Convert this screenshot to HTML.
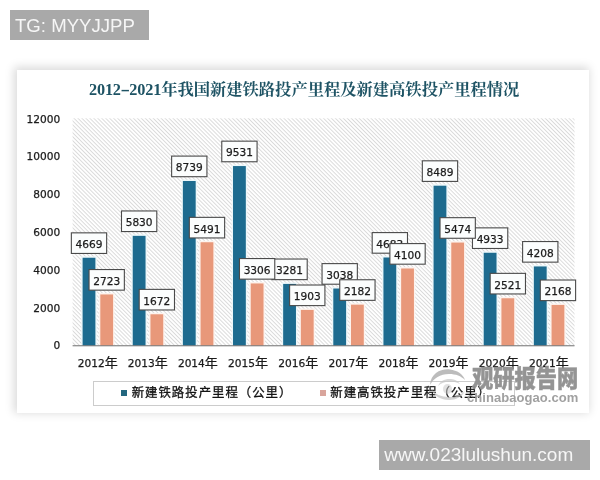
<!DOCTYPE html>
<html lang="zh"><head><meta charset="utf-8"><title>chart</title>
<style>
html,body{margin:0;padding:0;background:#fff;}
body{width:600px;height:480px;position:relative;overflow:hidden;font-family:"Liberation Sans","Noto Sans CJK SC",sans-serif;color:#1c1c1c;}
.abs{position:absolute;}
.tag{position:absolute;background:#a9a9a9;color:#f6f6f6;font-size:18.6px;line-height:30px;height:30px;white-space:nowrap;}
.panel{position:absolute;left:17px;top:70px;width:572px;height:343px;background:#fff;box-shadow:-1.5px -1.5px 9px 1.5px rgba(0,0,0,.15);}
.title{position:absolute;left:89px;top:77px;font-family:"Liberation Serif","Noto Serif CJK SC",serif;font-weight:bold;font-size:16.3px;line-height:26px;color:#1e5364;white-space:nowrap;}
.title .n{font-size:16.3px;font-weight:bold;letter-spacing:-0.2px;}
.title .d{display:inline-block;width:8.6px;text-align:center;font-weight:bold;transform:scaleX(1.75);}
.yl{position:absolute;left:20px;width:40.3px;text-align:right;font-family:"DejaVu Sans",sans-serif;font-size:10.6px;line-height:14px;height:14px;-webkit-text-stroke:.25px #1c1c1c;}
.xl{position:absolute;width:60px;text-align:center;font-family:"DejaVu Sans","Noto Sans CJK SC",sans-serif;font-size:10.6px;line-height:14px;height:14px;top:356.1px;white-space:nowrap;-webkit-text-stroke:.25px #1c1c1c;}
.xl b{font-weight:normal;font-size:13px;font-family:"Liberation Sans","Noto Sans CJK SC",sans-serif;}
.dl{position:absolute;width:36px;height:21px;text-align:center;font-size:12.3px;line-height:21px;}
.legend{position:absolute;left:92.5px;top:380.7px;width:422.5px;height:25px;box-sizing:border-box;border:1px solid #ccc;background:#fff;}
.lt{position:absolute;font-size:12.4px;letter-spacing:1.0px;line-height:16px;top:384.8px;white-space:nowrap;color:#141414;-webkit-text-stroke:.3px #141414;}
.wm{position:absolute;color:#8f8f8f;opacity:.85;white-space:nowrap;}
</style></head><body>
<div class="tag" style="left:10px;top:10px;width:139px;"><span style="position:absolute;left:5px;top:0.5px;">TG: MYYJJPP</span></div>
<div class="panel"></div>
<div class="title"><span class="n">2012</span><span class="d">-</span><span class="n">2021</span>年我国新建铁路投产里程及新建高铁投产里程情况</div>
<svg class="abs" style="left:0;top:0;" width="600" height="480" viewBox="0 0 600 480">
<defs><pattern id="h" width="2.8" height="2.8" patternUnits="userSpaceOnUse" patternTransform="rotate(45)"><rect width="2.8" height="2.8" fill="#fff"/><rect width="2.8" height="0.95" fill="#dadada"/></pattern></defs>
<rect x="72.6" y="118.3" width="501.9" height="227.5" fill="url(#h)"/>
<rect x="81.20" y="256.35" width="15.6" height="89.45" fill="#ecf7fa"/><rect x="82.60" y="257.75" width="12.8" height="88.05" fill="#1d6b8f"/>
<rect x="98.90" y="293.05" width="15.6" height="52.75" fill="#fdf3ee"/><rect x="100.30" y="294.45" width="12.8" height="51.35" fill="#e8987a"/>
<rect x="131.34" y="234.46" width="15.6" height="111.34" fill="#ecf7fa"/><rect x="132.74" y="235.86" width="12.8" height="109.94" fill="#1d6b8f"/>
<rect x="149.04" y="312.87" width="15.6" height="32.93" fill="#fdf3ee"/><rect x="150.44" y="314.27" width="12.8" height="31.53" fill="#e8987a"/>
<rect x="181.48" y="179.60" width="15.6" height="166.20" fill="#ecf7fa"/><rect x="182.88" y="181.00" width="12.8" height="164.80" fill="#1d6b8f"/>
<rect x="199.18" y="240.85" width="15.6" height="104.95" fill="#fdf3ee"/><rect x="200.58" y="242.25" width="12.8" height="103.55" fill="#e8987a"/>
<rect x="231.62" y="164.66" width="15.6" height="181.14" fill="#ecf7fa"/><rect x="233.02" y="166.06" width="12.8" height="179.74" fill="#1d6b8f"/>
<rect x="249.32" y="282.05" width="15.6" height="63.75" fill="#fdf3ee"/><rect x="250.72" y="283.45" width="12.8" height="62.35" fill="#e8987a"/>
<rect x="281.76" y="282.53" width="15.6" height="63.27" fill="#ecf7fa"/><rect x="283.16" y="283.93" width="12.8" height="61.87" fill="#1d6b8f"/>
<rect x="299.46" y="308.51" width="15.6" height="37.29" fill="#fdf3ee"/><rect x="300.86" y="309.91" width="12.8" height="35.89" fill="#e8987a"/>
<rect x="331.90" y="287.11" width="15.6" height="58.69" fill="#ecf7fa"/><rect x="333.30" y="288.51" width="12.8" height="57.29" fill="#1d6b8f"/>
<rect x="349.60" y="303.25" width="15.6" height="42.55" fill="#fdf3ee"/><rect x="351.00" y="304.65" width="12.8" height="41.15" fill="#e8987a"/>
<rect x="382.04" y="256.09" width="15.6" height="89.71" fill="#ecf7fa"/><rect x="383.44" y="257.49" width="12.8" height="88.31" fill="#1d6b8f"/>
<rect x="399.74" y="267.08" width="15.6" height="78.72" fill="#fdf3ee"/><rect x="401.14" y="268.48" width="12.8" height="77.32" fill="#e8987a"/>
<rect x="432.18" y="184.31" width="15.6" height="161.49" fill="#ecf7fa"/><rect x="433.58" y="185.71" width="12.8" height="160.09" fill="#1d6b8f"/>
<rect x="449.88" y="241.17" width="15.6" height="104.63" fill="#fdf3ee"/><rect x="451.28" y="242.57" width="12.8" height="103.23" fill="#e8987a"/>
<rect x="482.32" y="251.37" width="15.6" height="94.43" fill="#ecf7fa"/><rect x="483.72" y="252.77" width="12.8" height="93.03" fill="#1d6b8f"/>
<rect x="500.02" y="296.86" width="15.6" height="48.94" fill="#fdf3ee"/><rect x="501.42" y="298.26" width="12.8" height="47.54" fill="#e8987a"/>
<rect x="532.46" y="265.04" width="15.6" height="80.76" fill="#ecf7fa"/><rect x="533.86" y="266.44" width="12.8" height="79.36" fill="#1d6b8f"/>
<rect x="550.16" y="303.52" width="15.6" height="42.28" fill="#fdf3ee"/><rect x="551.56" y="304.92" width="12.8" height="40.88" fill="#e8987a"/>
<rect x="72.6" y="345.20" width="501.9" height="1.1" fill="#7d7d7d"/>
<rect x="71.35" y="232.85" width="35.3" height="20.6" fill="#fbfdfd" stroke="#4a4a4a" stroke-width="1.1"/><text x="89.00" y="248.00" text-anchor="middle" font-size="10.6" fill="#1c1c1c" stroke="#1c1c1c" stroke-width=".25" font-family="DejaVu Sans, sans-serif">4669</text>
<rect x="121.49" y="210.96" width="35.3" height="20.6" fill="#fbfdfd" stroke="#4a4a4a" stroke-width="1.1"/><text x="139.14" y="226.11" text-anchor="middle" font-size="10.6" fill="#1c1c1c" stroke="#1c1c1c" stroke-width=".25" font-family="DejaVu Sans, sans-serif">5830</text>
<rect x="171.63" y="156.10" width="35.3" height="20.6" fill="#fbfdfd" stroke="#4a4a4a" stroke-width="1.1"/><text x="189.28" y="171.25" text-anchor="middle" font-size="10.6" fill="#1c1c1c" stroke="#1c1c1c" stroke-width=".25" font-family="DejaVu Sans, sans-serif">8739</text>
<rect x="221.77" y="141.16" width="35.3" height="20.6" fill="#fbfdfd" stroke="#4a4a4a" stroke-width="1.1"/><text x="239.42" y="156.31" text-anchor="middle" font-size="10.6" fill="#1c1c1c" stroke="#1c1c1c" stroke-width=".25" font-family="DejaVu Sans, sans-serif">9531</text>
<rect x="271.91" y="259.03" width="35.3" height="20.6" fill="#fbfdfd" stroke="#4a4a4a" stroke-width="1.1"/><text x="289.56" y="274.18" text-anchor="middle" font-size="10.6" fill="#1c1c1c" stroke="#1c1c1c" stroke-width=".25" font-family="DejaVu Sans, sans-serif">3281</text>
<rect x="322.05" y="263.61" width="35.3" height="20.6" fill="#fbfdfd" stroke="#4a4a4a" stroke-width="1.1"/><text x="339.70" y="278.76" text-anchor="middle" font-size="10.6" fill="#1c1c1c" stroke="#1c1c1c" stroke-width=".25" font-family="DejaVu Sans, sans-serif">3038</text>
<rect x="372.19" y="232.59" width="35.3" height="20.6" fill="#fbfdfd" stroke="#4a4a4a" stroke-width="1.1"/><text x="389.84" y="247.74" text-anchor="middle" font-size="10.6" fill="#1c1c1c" stroke="#1c1c1c" stroke-width=".25" font-family="DejaVu Sans, sans-serif">4683</text>
<rect x="422.33" y="160.81" width="35.3" height="20.6" fill="#fbfdfd" stroke="#4a4a4a" stroke-width="1.1"/><text x="439.98" y="175.96" text-anchor="middle" font-size="10.6" fill="#1c1c1c" stroke="#1c1c1c" stroke-width=".25" font-family="DejaVu Sans, sans-serif">8489</text>
<rect x="472.47" y="227.87" width="35.3" height="20.6" fill="#fbfdfd" stroke="#4a4a4a" stroke-width="1.1"/><text x="490.12" y="243.02" text-anchor="middle" font-size="10.6" fill="#1c1c1c" stroke="#1c1c1c" stroke-width=".25" font-family="DejaVu Sans, sans-serif">4933</text>
<rect x="522.61" y="241.54" width="35.3" height="20.6" fill="#fbfdfd" stroke="#4a4a4a" stroke-width="1.1"/><text x="540.26" y="256.69" text-anchor="middle" font-size="10.6" fill="#1c1c1c" stroke="#1c1c1c" stroke-width=".25" font-family="DejaVu Sans, sans-serif">4208</text>
<rect x="89.05" y="269.55" width="35.3" height="20.6" fill="#fbfdfd" stroke="#4a4a4a" stroke-width="1.1"/><text x="106.70" y="284.70" text-anchor="middle" font-size="10.6" fill="#1c1c1c" stroke="#1c1c1c" stroke-width=".25" font-family="DejaVu Sans, sans-serif">2723</text>
<rect x="139.19" y="289.37" width="35.3" height="20.6" fill="#fbfdfd" stroke="#4a4a4a" stroke-width="1.1"/><text x="156.84" y="304.52" text-anchor="middle" font-size="10.6" fill="#1c1c1c" stroke="#1c1c1c" stroke-width=".25" font-family="DejaVu Sans, sans-serif">1672</text>
<rect x="189.33" y="217.35" width="35.3" height="20.6" fill="#fbfdfd" stroke="#4a4a4a" stroke-width="1.1"/><text x="206.98" y="232.50" text-anchor="middle" font-size="10.6" fill="#1c1c1c" stroke="#1c1c1c" stroke-width=".25" font-family="DejaVu Sans, sans-serif">5491</text>
<rect x="239.47" y="258.55" width="35.3" height="20.6" fill="#fbfdfd" stroke="#4a4a4a" stroke-width="1.1"/><text x="257.12" y="273.70" text-anchor="middle" font-size="10.6" fill="#1c1c1c" stroke="#1c1c1c" stroke-width=".25" font-family="DejaVu Sans, sans-serif">3306</text>
<rect x="289.61" y="285.01" width="35.3" height="20.6" fill="#fbfdfd" stroke="#4a4a4a" stroke-width="1.1"/><text x="307.26" y="300.16" text-anchor="middle" font-size="10.6" fill="#1c1c1c" stroke="#1c1c1c" stroke-width=".25" font-family="DejaVu Sans, sans-serif">1903</text>
<rect x="339.75" y="279.75" width="35.3" height="20.6" fill="#fbfdfd" stroke="#4a4a4a" stroke-width="1.1"/><text x="357.40" y="294.90" text-anchor="middle" font-size="10.6" fill="#1c1c1c" stroke="#1c1c1c" stroke-width=".25" font-family="DejaVu Sans, sans-serif">2182</text>
<rect x="389.89" y="243.58" width="35.3" height="20.6" fill="#fbfdfd" stroke="#4a4a4a" stroke-width="1.1"/><text x="407.54" y="258.73" text-anchor="middle" font-size="10.6" fill="#1c1c1c" stroke="#1c1c1c" stroke-width=".25" font-family="DejaVu Sans, sans-serif">4100</text>
<rect x="440.03" y="217.67" width="35.3" height="20.6" fill="#fbfdfd" stroke="#4a4a4a" stroke-width="1.1"/><text x="457.68" y="232.82" text-anchor="middle" font-size="10.6" fill="#1c1c1c" stroke="#1c1c1c" stroke-width=".25" font-family="DejaVu Sans, sans-serif">5474</text>
<rect x="490.17" y="273.36" width="35.3" height="20.6" fill="#fbfdfd" stroke="#4a4a4a" stroke-width="1.1"/><text x="507.82" y="288.51" text-anchor="middle" font-size="10.6" fill="#1c1c1c" stroke="#1c1c1c" stroke-width=".25" font-family="DejaVu Sans, sans-serif">2521</text>
<rect x="540.31" y="280.02" width="35.3" height="20.6" fill="#fbfdfd" stroke="#4a4a4a" stroke-width="1.1"/><text x="557.96" y="295.17" text-anchor="middle" font-size="10.6" fill="#1c1c1c" stroke="#1c1c1c" stroke-width=".25" font-family="DejaVu Sans, sans-serif">2168</text>
</svg>
<div class="yl" style="top:338.3px;">0</div>
<div class="yl" style="top:300.5px;">2000</div>
<div class="yl" style="top:262.7px;">4000</div>
<div class="yl" style="top:224.9px;">6000</div>
<div class="yl" style="top:187.1px;">8000</div>
<div class="yl" style="top:149.3px;">10000</div>
<div class="yl" style="top:111.5px;">12000</div>
<div class="xl" style="left:67.7px;">2012<b>年</b></div>
<div class="xl" style="left:117.8px;">2013<b>年</b></div>
<div class="xl" style="left:167.9px;">2014<b>年</b></div>
<div class="xl" style="left:218.1px;">2015<b>年</b></div>
<div class="xl" style="left:268.2px;">2016<b>年</b></div>
<div class="xl" style="left:318.4px;">2017<b>年</b></div>
<div class="xl" style="left:368.5px;">2018<b>年</b></div>
<div class="xl" style="left:418.6px;">2019<b>年</b></div>
<div class="xl" style="left:468.8px;">2020<b>年</b></div>
<div class="xl" style="left:518.9px;">2021<b>年</b></div>
<div class="legend"></div>
<div class="abs" style="left:121px;top:390px;width:6px;height:6px;background:#23677f;"></div>
<div class="lt" style="left:131.7px;">新建铁路投产里程（公里）</div>
<div class="abs" style="left:320px;top:390px;width:6.3px;height:6.3px;background:#d9a59c;"></div>
<div class="lt" style="left:330.3px;">新建高铁投产里程（公里）</div>
<svg class="abs" style="left:426px;top:364px;" width="44" height="40" viewBox="0 0 44 40">
<path d="M4 21 C5 9 15 4.5 24 5.5 C31 6.3 37 10 39 16 C35 12 30 10 23 10 C14 10 8 14 4 21 Z" fill="#b0b0b0" opacity=".85"/>
<path d="M5 25 C8 32 15 36 23 36 C30 36 36 33 39 27 C35 31 29 33 23 33 C15 33 9 30 5 25 Z" fill="#c2c2c2" opacity=".7"/>
<path d="M12 22 C14 17 19 14.5 25 15 C29 15.4 32 17 34 20 C30 18 27 17.5 24 17.5 C19 17.5 15 19 12 22 Z" fill="#c6c6c6" opacity=".7"/>
<ellipse cx="21.5" cy="25" rx="4.5" ry="5" fill="#c8c8c8" opacity=".55"/>
</svg>
<div class="wm" style="left:472.3px;top:362.6px;font-size:24px;line-height:32px;font-weight:900;color:#8f8f8f;opacity:.95;transform-origin:0 50%;transform:scaleX(0.885);-webkit-text-stroke:.5px #8f8f8f;font-family:'Liberation Sans','Noto Sans CJK SC',sans-serif;">观研报告网</div>
<div class="wm" style="left:467px;top:389px;font-size:13px;line-height:18px;font-weight:bold;color:#9b9b9b;opacity:.95;letter-spacing:.05px;">chinabaogao.com</div>
<div class="tag" style="left:379px;top:440px;width:210.7px;"><span style="position:absolute;left:5.2px;top:0.3px;font-size:19px;">www.023lulushun.com</span></div>
</body></html>
